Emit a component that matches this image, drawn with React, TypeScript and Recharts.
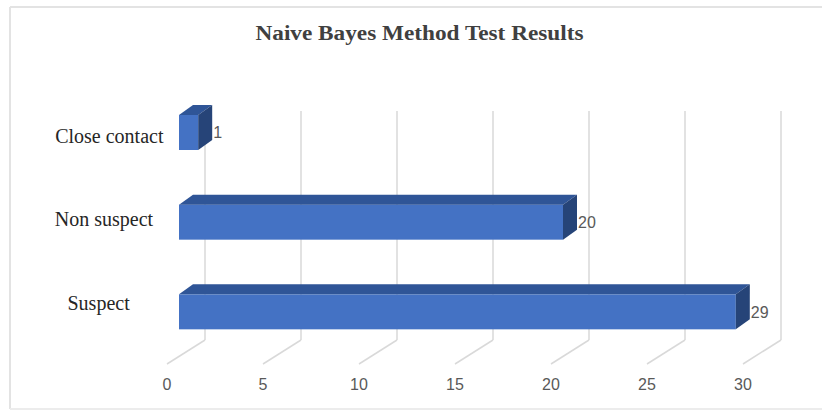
import React from "react";
import { BarChart, Bar, XAxis, YAxis, CartesianGrid, LabelList } from "recharts";

const categories = ["Close contact", "Non suspect", "Suspect"];
const counts = [1, 20, 29];
const xTicks = [0, 5, 10, 15, 20, 25, 30];

const data = categories.map((name, i) => ({ name, value: counts[i] }));

// 3d offsets, picked to look like the excel render
const DEPTH_X = 14;
const DEPTH_Y = 10;
const BACK_SHIFT = 26;
const FRONT_SHIFT = -12;
const WALL_TOP = 111;
const WALL_BOTTOM = 340;
const FLOOR_FRONT = 364;

const Bar3D = (props: any) => {
  const { x, y, width, height } = props;
  if (width == null || height == null) return null;
  const top = `${x},${y} ${x + DEPTH_X},${y - DEPTH_Y} ${x + width + DEPTH_X},${y - DEPTH_Y} ${x + width},${y}`;
  const side = `${x + width},${y} ${x + width + DEPTH_X},${y - DEPTH_Y} ${x + width + DEPTH_X},${y + height - DEPTH_Y} ${x + width},${y + height}`;
  return (
    <g>
      <rect x={x} y={y} width={width} height={height} fill="#4472C4" />
      <polygon points={top} fill="#2F5597" />
      <polygon points={side} fill="#264478" />
    </g>
  );
};

const GridLine = (props: any) => {
  const x = props.x1;
  return (
    <g key={props.key ?? `g-${x}`}>
      <line x1={x + BACK_SHIFT} y1={WALL_TOP} x2={x + BACK_SHIFT} y2={WALL_BOTTOM} stroke="#d9d9d9" strokeWidth={1.5} />
      <line x1={x + BACK_SHIFT} y1={WALL_BOTTOM} x2={x + FRONT_SHIFT} y2={FLOOR_FRONT} stroke="#d9d9d9" strokeWidth={1.5} />
    </g>
  );
};

const XTick = (props: any) => {
  const { x, payload } = props;
  return (
    <text x={x + FRONT_SHIFT} y={390} textAnchor="middle" fill="#595959" fontSize={16} fontFamily="Liberation Sans, Arial, sans-serif">
      {payload.value}
    </text>
  );
};

const YTick = (props: any) => {
  const { y, payload } = props;
  // small perspective skew on the category labels
  const dx = -(y - 222) * 0.06;
  const dy = -2 - (y - 222) * 0.073;
  return (
    <text x={104 + dx} y={y + dy} dy={6} textAnchor="middle" fill="#262626" fontSize={20} fontFamily="Liberation Serif, Times New Roman, serif">
      {payload.value}
    </text>
  );
};

export default function App() {
  return (
    <div style={{ position: "absolute", left: 0, top: 0, width: 822, height: 410, background: "#fff" }}>
      <svg width={822} height={410} style={{ position: "absolute", left: 0, top: 0 }}>
        <line x1={10} y1={7} x2={822} y2={7} stroke="#e3e3e3" strokeWidth={2} />
        <line x1={10} y1={7} x2={10} y2={409} stroke="#e3e3e3" strokeWidth={2} />
        <line x1={10} y1={409} x2={822} y2={409} stroke="#ececec" strokeWidth={2} />
        <text x={419.5} y={40} textAnchor="middle" fill="#404040" fontSize={20} fontWeight="bold" fontFamily="Liberation Serif, Times New Roman, serif" textLength={328} lengthAdjust="spacingAndGlyphs">
          Naive Bayes Method Test Results
        </text>
      </svg>
      <div style={{ position: "absolute", left: 0, top: 0 }}>
        <BarChart width={822} height={410} data={data} layout="vertical" margin={{ top: 88, right: 67, bottom: 33, left: 79 }} barSize={35}>
          <CartesianGrid horizontal={false} vertical={GridLine} stroke="#d9d9d9" />
          <XAxis type="number" domain={[0, 30]} ticks={xTicks} axisLine={false} tickLine={false} height={20} tick={XTick} interval={0} />
          <YAxis type="category" dataKey="name" axisLine={false} tickLine={false} width={100} tick={YTick} interval={0} />
          <Bar dataKey="value" shape={Bar3D} isAnimationActive={false}>
            <LabelList dataKey="value" position="right" offset={15} fill="#595959" fontSize={16} fontFamily="Liberation Sans, Arial, sans-serif" />
          </Bar>
        </BarChart>
      </div>
    </div>
  );
}
